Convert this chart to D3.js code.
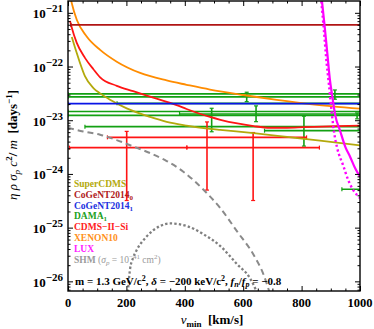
<!DOCTYPE html>
<html>
<head>
<meta charset="utf-8">
<script src="https://cdn.jsdelivr.net/npm/d3@7"></script>
<style>
  body { margin: 0; background: #fff; }
  text { font-family: "Liberation Serif", "DejaVu Serif", serif; }
</style>
</head>
<body>
<div id="chart"></div>
<script>
// ---- data (v_min in km/s, eta-hat in days^-1) ----
const xenon10V   = [8, 13, 30, 64, 110, 167, 247, 338, 406, 486, 600, 715, 829, 1000];
const xenon10Eta = [2.0e-21, 1.51e-21, 7.41e-22, 3.63e-22, 2.04e-22, 1.23e-22, 7.59e-23, 5.50e-23, 4.57e-23, 3.72e-23, 2.95e-23, 2.40e-23, 2.0e-23, 1.64e-23];

const cdmsSiV   = [7, 13, 30, 58, 87, 110, 167, 223, 292, 372, 406, 486, 522, 580, 636, 692, 750, 807, 921, 1000];
const cdmsSiEta = [7.08e-22, 5.25e-22, 2.75e-22, 1.45e-22, 8.91e-23, 6.31e-23, 4.37e-23, 3.47e-23, 2.63e-23, 1.91e-23, 1.62e-23, 1.15e-23, 1.02e-23, 8.71e-24, 7.76e-24, 7.24e-24, 7.24e-24, 7.41e-24, 7.76e-24, 7.94e-24];

const superCdmsV   = [13, 30, 41, 58, 87, 110, 144, 201, 281, 338, 406, 486, 521, 636, 750, 863, 1000];
const superCdmsEta = [3.55e-22, 1.78e-22, 1.17e-22, 6.61e-23, 3.98e-23, 3.16e-23, 2.40e-23, 1.66e-23, 1.15e-23, 9.33e-24, 7.94e-24, 6.92e-24, 6.61e-24, 5.75e-24, 4.90e-24, 4.17e-24, 3.39e-24];

const luxV   = [868, 878, 888, 897, 905, 915, 932, 950, 966, 983, 1000];
const luxEta = [2.0e-21, 6.31e-22, 1.78e-22, 5.62e-23, 2.82e-23, 1.26e-23, 6.31e-24, 3.16e-24, 2.09e-24, 1.29e-24, 8.91e-25];

const luxDotV   = [866, 876, 886, 893, 903, 912, 922, 943, 960, 977, 1000];
const luxDotEta = [2.0e-21, 5.01e-22, 1.12e-22, 5.01e-23, 1.41e-23, 5.62e-24, 3.02e-24, 1.41e-24, 7.59e-25, 5.01e-25, 3.55e-25];

const shmV   = [0, 52, 110, 167, 224, 281, 338, 395, 465, 522, 579, 636, 670, 690];
const shmEta = [7.24e-24, 6.17e-24, 5.37e-24, 4.27e-24, 3.24e-24, 2.45e-24, 1.74e-24, 1.10e-24, 5.01e-25, 2.29e-25, 8.51e-26, 3.09e-26, 1.32e-26, 6.31e-27];

const shmDotV   = [205, 212, 223, 235, 270, 315, 349, 407, 463, 521, 579, 623, 647];
const shmDotEta = [6.31e-27, 1.62e-26, 2.75e-26, 3.80e-26, 6.92e-26, 1.07e-25, 1.20e-25, 1.07e-25, 7.59e-26, 4.57e-26, 2.09e-26, 1.15e-26, 6.31e-27];

// horizontal levels: [vLow, vHigh, eta]
const cogent0 = [[10, 1060, 5.96e-22]];
const cogent1 = [[0, 1060, 2.04e-23]];

// DAMA bins: vLow, vHigh, eta, bar position, bar low, bar high
const damaLow  = [0, 0, 168, 0, 0, 382, 58, 673, 938];
const damaHigh = [1060, 1060, 1060, 1060, 1060, 1060, 1060, 1060, 1060];
const damaEta  = [2.72e-23, 3.09e-23, 2.06e-23, 1.45e-23, 1.23e-23, 1.31e-23, 7.6e-24, 6.4e-24, 5.2e-25];
const damaBarV = [612, 914, null, 644, 492, 990, null, 808, null];
const damaBarLo = [2.22e-23, 2.46e-23, null, 9.4e-24, 6.1e-24, 1.06e-23, null, 3.3e-24, null];
const damaBarHi = [3.32e-23, 3.66e-23, null, 1.85e-23, 1.67e-23, 1.37e-23, null, 1.19e-23, null];

// CDMS-II-Si bins
const siLow   = [5, 135, 407];
const siHigh  = [407, 817, 861];
const siEta   = [3.09e-24, 4.8e-24, 3.09e-24];
const siBarV  = [201, 476, 634];
const siBarLo = [3.2e-25, 5.0e-25, 3.2e-25];
const siBarHi = [6.2e-24, 9.3e-24, 5.9e-24];

const xTicks = [0, 200, 400, 600, 800, 1000];
const yTicks = [1e-26, 1e-25, 1e-24, 1e-23, 1e-22, 1e-21];

const legendNames = ["SuperCDMS", "CoGeNT2014", "CoGeNT2014", "DAMA", "CDMS\u2212II\u2212Si", "XENON10", "LUX"];
const legendSubs  = ["", "0", "1", "1", "", "", ""];
const legendColors = ["#b3a90c", "#b02020", "#2030e0", "#20a020", "#ff2020", "#ff9020", "#ff20ff"];

// ---- layout ----
const W = 374, H = 329;
const margin = { top: 1, right: 14, bottom: 38, left: 68 };
const X0 = margin.left, X1 = W - margin.right, Y0 = margin.top, Y1 = H - margin.bottom;

const x = d3.scaleLinear().domain([0, 1000]).range([X0, X1]);
const y = d3.scaleLog().domain([6.61e-27, 1.66e-21]).range([Y1, Y0]);

const svg = d3.select("#chart").append("svg")
    .attr("width", W).attr("height", H);

svg.append("clipPath").attr("id", "clip")
  .append("rect").attr("x", X0).attr("y", Y0).attr("width", X1 - X0).attr("height", Y1 - Y0);

const plot = svg.append("g").attr("clip-path", "url(#clip)");

const green = "#13a013", red = "#ff1414";

// crosses (horizontal bin with end caps + vertical error bar with caps)
function cross(g, color, vLo, vHi, eta, barV, barLo, barHi, width) {
  const yc = y(eta);
  g.append("line").attr("x1", x(vLo)).attr("x2", x(vHi)).attr("y1", yc).attr("y2", yc)
    .attr("stroke", color).attr("stroke-width", width);
  [vLo, vHi].forEach(v => g.append("line")
    .attr("x1", x(v)).attr("x2", x(v)).attr("y1", yc - 2).attr("y2", yc + 2)
    .attr("stroke", color).attr("stroke-width", 1.2));
  if (barV != null) {
    g.append("line").attr("x1", x(barV)).attr("x2", x(barV)).attr("y1", y(barHi)).attr("y2", y(barLo))
      .attr("stroke", color).attr("stroke-width", width);
    [barLo, barHi].forEach(b => g.append("line")
      .attr("x1", x(barV) - 2).attr("x2", x(barV) + 2).attr("y1", y(b)).attr("y2", y(b))
      .attr("stroke", color).attr("stroke-width", 1.2));
  }
}

damaEta.forEach((e, i) => cross(plot, green, damaLow[i], damaHigh[i], e, damaBarV[i], damaBarLo[i], damaBarHi[i], 1.6));
siEta.forEach((e, i) => cross(plot, red, siLow[i], siHigh[i], e, siBarV[i], siBarLo[i], siBarHi[i], 1.6));

const line = d3.line().x(d => x(d[0])).y(d => y(d[1])).curve(d3.curveMonotoneX);
function curve(vs, etas, color, w, dash) {
  plot.append("path")
    .datum(vs.map((v, i) => [v, etas[i]]))
    .attr("fill", "none").attr("stroke", color).attr("stroke-width", w)
    .attr("stroke-dasharray", dash || null)
    .attr("d", line);
}

curve(shmV, shmEta, "#8a8a8a", 2, "6,4");
curve(shmDotV, shmDotEta, "#7f7f7f", 2.3, "2.4,2.2");
curve(superCdmsV, superCdmsEta, "#b3a90c", 1.8);
curve(cdmsSiV, cdmsSiEta, red, 1.8);
curve(xenon10V, xenon10Eta, "#ff8c00", 1.8);

cogent1.forEach(d => cross(plot, "#0a14e6", d[0], d[1], d[2], null, null, null, 1.6));
cogent0.forEach(d => cross(plot, "#b01414", d[0], d[1], d[2], null, null, null, 1.6));

curve(luxV, luxEta, "#ff00ff", 2.2);
curve(luxDotV, luxDotEta, "#ff00ff", 2.4, "2.2,2.6");

// ---- frame + ticks (inward, on all four sides) ----
const majorY = yTicks;
const minorY = [];
for (let p = -27; p <= -21; p++) for (let k = 2; k <= 9; k++) {
  const v = k * Math.pow(10, p);
  if (v > y.domain()[0] && v < y.domain()[1]) minorY.push(v);
}
const minorX = d3.range(0, 1001, 50).filter(v => v % 200 !== 0);

function axisGroup(axis, tx, ty) {
  const g = svg.append("g").attr("transform", `translate(${tx},${ty})`).call(axis);
  g.select(".domain").remove();
  g.selectAll(".tick line").attr("stroke", "#000").attr("stroke-width", 1);
  g.selectAll(".tick text").remove();
  return g;
}
axisGroup(d3.axisLeft(y).tickValues(majorY).tickSize(-5), X0, 0);
axisGroup(d3.axisLeft(y).tickValues(minorY).tickSize(-2.5), X0, 0);
axisGroup(d3.axisRight(y).tickValues(majorY).tickSize(-5), X1, 0);
axisGroup(d3.axisRight(y).tickValues(minorY).tickSize(-2.5), X1, 0);
axisGroup(d3.axisBottom(x).tickValues(xTicks).tickSize(-5), 0, Y1);
axisGroup(d3.axisBottom(x).tickValues(minorX).tickSize(-2.5), 0, Y1);
axisGroup(d3.axisTop(x).tickValues(xTicks).tickSize(-5), 0, Y0);
axisGroup(d3.axisTop(x).tickValues(minorX).tickSize(-2.5), 0, Y0);

svg.append("rect").attr("x", X0).attr("y", Y0).attr("width", X1 - X0).attr("height", Y1 - Y0)
  .attr("fill", "none").attr("stroke", "#000").attr("stroke-width", 1.4);

// tick labels
yTicks.forEach(t => {
  const txt = svg.append("text").attr("x", X0 - 5).attr("y", y(t) + 5.5)
    .attr("text-anchor", "end").attr("font-weight", "bold").attr("font-size", 13);
  txt.append("tspan").text("10");
  txt.append("tspan").attr("font-size", 11).attr("dy", -6).text("\u2212" + Math.round(-Math.log10(t)));
});
xTicks.forEach(t => {
  svg.append("text").attr("x", x(t)).attr("y", Y1 + 15.5).attr("text-anchor", "middle")
    .attr("font-weight", "bold").attr("font-size", 12.5).text(t);
});

// axis titles
const xt = svg.append("text").attr("x", 212).attr("y", 324).attr("text-anchor", "middle")
  .attr("font-size", 13).attr("font-weight", "bold");
xt.append("tspan").attr("font-style", "italic").attr("font-weight", "normal").text("v");
xt.append("tspan").attr("font-size", 9).attr("dy", 3).text("min");
xt.append("tspan").attr("dy", -3).text("\u00a0\u00a0[km/s]");

const yt = svg.append("text").attr("transform", "translate(17,145) rotate(-90)")
  .attr("text-anchor", "middle").attr("font-size", 13);
yt.append("tspan").attr("font-style", "italic").text("\u03b7 \u03c1 \u03c3");
yt.append("tspan").attr("font-style", "italic").attr("font-size", 9).attr("dy", 3).text("p");
yt.append("tspan").attr("font-style", "italic").attr("dy", -3).text(" c");
yt.append("tspan").attr("font-size", 9).attr("font-weight", "bold").attr("dy", -5).text("2");
yt.append("tspan").attr("dy", 5).attr("font-weight", "bold").text("/ ");
yt.append("tspan").attr("font-style", "italic").text("m");
yt.append("tspan").attr("font-weight", "bold").text("\u00a0\u00a0[days");
yt.append("tspan").attr("font-weight", "bold").attr("font-size", 9).attr("dy", -5).text("\u22121");
yt.append("tspan").attr("font-weight", "bold").attr("dy", 5).text("]");

// legend
legendNames.forEach((n, i) => {
  const t = svg.append("text").attr("x", 74).attr("y", 187 + i * 10.8)
    .attr("font-size", 9.5).attr("font-weight", "bold").attr("fill", legendColors[i]);
  t.append("tspan").text(n);
  if (legendSubs[i]) t.append("tspan").attr("font-size", 7).attr("dy", 2).text(legendSubs[i]);
});
const shm = svg.append("text").attr("x", 74).attr("y", 187 + 7 * 10.8)
  .attr("font-size", 9.5).attr("fill", "#9a9a9a");
shm.append("tspan").attr("font-weight", "bold").text("SHM ");
shm.append("tspan").text("(");
shm.append("tspan").attr("font-style", "italic").text("\u03c3");
shm.append("tspan").attr("font-style", "italic").attr("font-size", 7).attr("dy", 2).text("p");
shm.append("tspan").attr("dy", -2).text(" = 10");
shm.append("tspan").attr("font-size", 7).attr("dy", -4).text("\u221241");
shm.append("tspan").attr("dy", 4).text(" cm");
shm.append("tspan").attr("font-size", 7).attr("dy", -4).text("2");
shm.append("tspan").attr("dy", 4).text(")");

// parameter annotation
const ann = svg.append("text").attr("x", 75).attr("y", 285)
  .attr("font-size", 11).attr("font-weight", "bold");
ann.append("tspan").text("m = 1.3 GeV/c");
ann.append("tspan").attr("font-size", 8).attr("dy", -4).text("2");
ann.append("tspan").attr("dy", 4).text(", ");
ann.append("tspan").attr("font-style", "italic").text("\u03b4");
ann.append("tspan").text(" = \u2212200 keV/c");
ann.append("tspan").attr("font-size", 8).attr("dy", -4).text("2");
ann.append("tspan").attr("dy", 4).text(", ");
ann.append("tspan").attr("font-style", "italic").text("f");
ann.append("tspan").attr("font-style", "italic").attr("font-size", 8).attr("dy", 2).text("n");
ann.append("tspan").attr("dy", -2).text("/");
ann.append("tspan").attr("font-style", "italic").text("f");
ann.append("tspan").attr("font-style", "italic").attr("font-size", 8).attr("dy", 2).text("p");
ann.append("tspan").attr("dy", -2).text(" = \u22120.8");
</script>
</body>
</html>
